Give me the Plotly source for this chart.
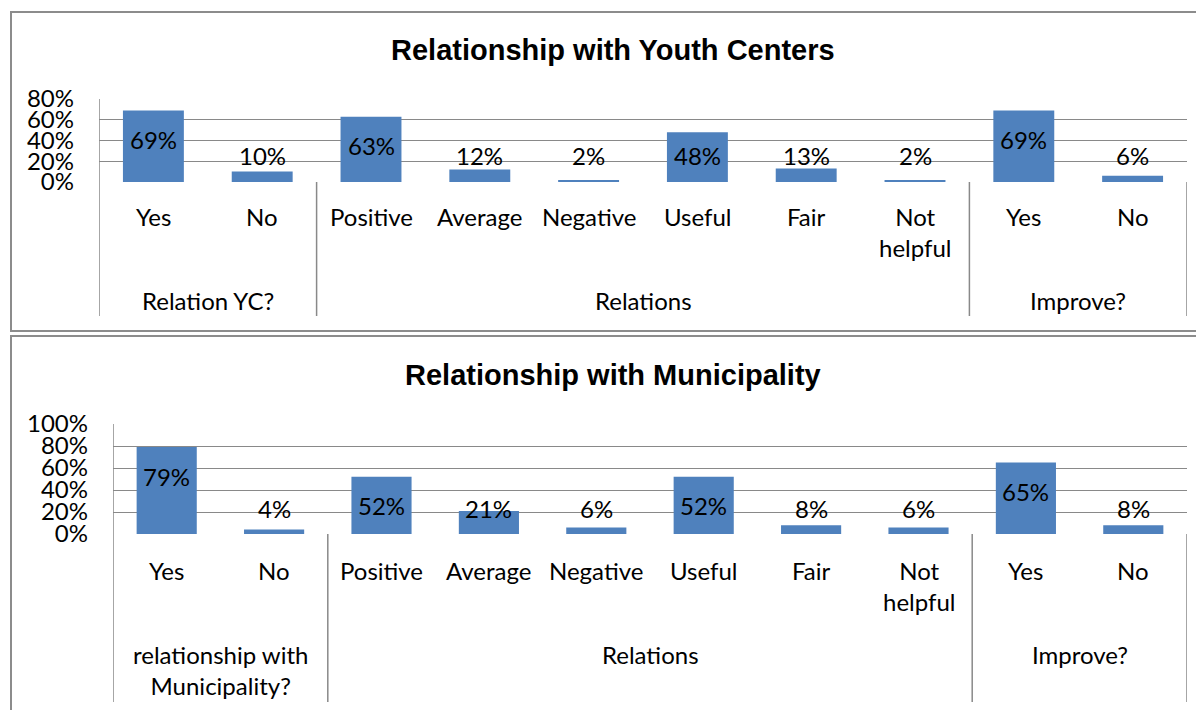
import plotly.graph_objects as go

# ---------------- data ----------------
categories = ["Yes", "No", "Positive", "Average", "Negative", "Useful", "Fair",
              "Not<br>helpful", "Yes", "No"]
yc_groups = ["Relation YC?", "Relations", "Improve?"]
mun_groups = ["relationship with<br>Municipality?", "Relations", "Improve?"]
group_sizes = [2, 6, 2]
yc_values = [0.69, 0.10, 0.63, 0.12, 0.02, 0.48, 0.13, 0.02, 0.69, 0.06]
mun_values = [0.79, 0.04, 0.52, 0.21, 0.06, 0.52, 0.08, 0.06, 0.65, 0.08]
titles = ["Relationship with Youth Centers", "Relationship with Municipality"]

# ---------------- layout constants (page pixels) ----------------
OFF = 8                      # default body margin of the html page
W, H = 1204 - OFF, 710 - OFF
BAR = "#4F81BD"
GRID = "#898989"
FRAME = "#8C8C8C"
BODY_FONT = "Lato"
BODY_SIZE = 24


def px(x):
    return (x - OFF) / W


def py(y):
    return 1 - (y - OFF) / H


panels = [
    dict(values=yc_values, groups=yc_groups, title=titles[0], ymax=0.8,
         left=99, right=1187, top=99, bottom=182, cat_y=216, grp_y=300,
         sep_bottom=316, title_y=50, frame=(11, 12, 1230, 331), low_off=27),
    dict(values=mun_values, groups=mun_groups, title=titles[1], ymax=1.0,
         left=113, right=1187, top=424, bottom=534, cat_y=570, grp_y=654,
         sep_bottom=702, title_y=375, frame=(11, 336, 1230, 740), low_off=26),
]

fig = go.Figure()
shapes = []
annotations = []
n = len(categories)
xs = list(range(n))

for k, p in enumerate(panels):
    sfx = "" if k == 0 else str(k + 1)
    xa, ya = "x" + sfx, "y" + sfx
    fig.add_trace(go.Bar(x=xs, y=p["values"], marker=dict(color=BAR, line=dict(width=0)),
                         width=0.56, xaxis=xa, yaxis=ya, showlegend=False,
                         hoverinfo="skip"))
    fig.update_layout(**{
        "xaxis" + sfx: dict(domain=[px(p["left"]), px(p["right"])], range=[-0.5, n - 0.5],
                            showgrid=False, showticklabels=False, zeroline=False,
                            showline=False, anchor=ya, fixedrange=True, automargin=False),
        "yaxis" + sfx: dict(domain=[py(p["bottom"]), py(p["top"])], range=[0, p["ymax"]],
                            dtick=0.2, tickformat=".0%", showgrid=True, gridcolor=GRID,
                            gridwidth=1.3, zeroline=False, showline=False,
                            ticks="", ticklabelstandoff=24, anchor=xa, automargin=False,
                            tickfont=dict(family=BODY_FONT, size=BODY_SIZE, color="black"),
                            fixedrange=True),
    })
    # frame
    fx0, fy0, fx1, fy1 = p["frame"]
    shapes.append(dict(type="rect", xref="paper", yref="paper", x0=px(fx0), x1=px(fx1),
                       y0=py(fy0), y1=py(fy1), line=dict(color=FRAME, width=2)))
    # title
    annotations.append(dict(text="<b>%s</b>" % p["title"], xref="paper", yref="paper",
                            x=px(613), y=py(p["title_y"]), showarrow=False,
                            xanchor="center", yanchor="middle",
                            font=dict(family="Liberation Sans", size=29, color="black")))
    # left axis line, top of plot down to bottom of category area
    shapes.append(dict(type="line", xref=xa, yref="paper", x0=-0.5, x1=-0.5,
                       y0=py(p["top"]), y1=py(p["sep_bottom"]),
                       line=dict(color=GRID, width=1.5)))
    # group separators and group labels
    edge = -0.5
    for g, size in zip(p["groups"], group_sizes):
        center = edge + size / 2
        edge += size
        shapes.append(dict(type="line", xref=xa, yref="paper", x0=edge, x1=edge,
                           y0=py(p["bottom"]), y1=py(p["sep_bottom"]),
                           line=dict(color=GRID, width=1.5)))
        annotations.append(dict(text=g, xref=xa, yref="paper", x=center,
                                y=py(p["grp_y"] - 16), showarrow=False, xanchor="center",
                                yanchor="top", align="center",
                                font=dict(family=BODY_FONT, size=BODY_SIZE, color="black")))
    # category labels
    for i, c in enumerate(categories):
        annotations.append(dict(text=c, xref=xa, yref="paper", x=i,
                                y=py(p["cat_y"] - 16), showarrow=False, xanchor="center",
                                yanchor="top", align="center",
                                font=dict(family=BODY_FONT, size=BODY_SIZE, color="black")))
    # data labels
    ppu = (p["bottom"] - p["top"]) / p["ymax"]
    for i, v in enumerate(p["values"]):
        off = max(v * ppu - 29, p["low_off"])
        annotations.append(dict(text="%d%%" % round(v * 100), xref=xa, yref=ya, x=i, y=0,
                                yshift=off, showarrow=False, xanchor="center",
                                yanchor="middle",
                                font=dict(family=BODY_FONT, size=BODY_SIZE, color="black")))

fig.update_layout(width=W, height=H, margin=dict(l=0, r=0, t=0, b=0, pad=0),
                  paper_bgcolor="white", plot_bgcolor="white", template="none",
                  shapes=shapes, annotations=annotations, bargap=0.44)

fig.write_html("out.html")
